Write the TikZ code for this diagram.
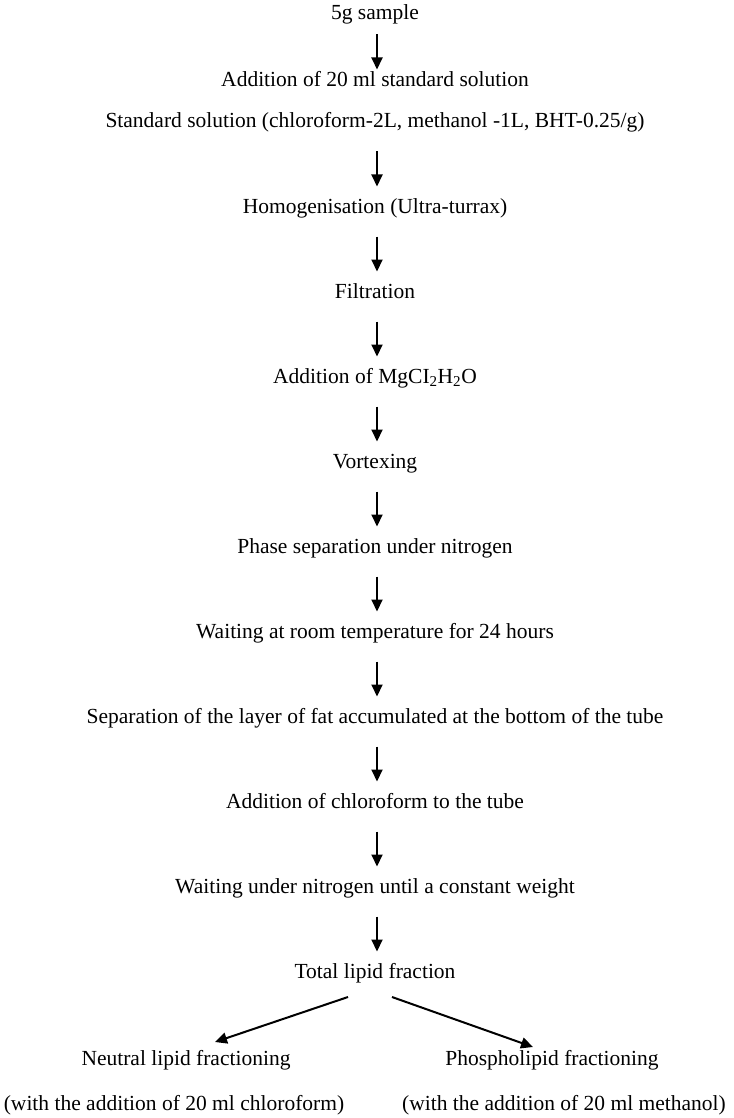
\documentclass[tikz,border=0pt]{standalone}
\usepackage{fontspec}
\setmainfont{Liberation Serif}
\usetikzlibrary{arrows.meta,calc}

\begin{document}
\begin{tikzpicture}[x=1pt, y=-1pt,
  lab/.style={font=\fontsize{21.5}{25}\selectfont, text=black, inner sep=0pt, text height=15pt, text depth=5pt},
  flow/.style={line width=2pt, draw=black, -{Triangle[length=12pt, width=11pt]}},
]
\useasboundingbox (0,0) rectangle (733,1118);
% ---------------- main column
\node[lab] (smp) at (375,15) {5g sample};
\node[lab] (add) at (375,82) {Addition of 20 ml standard solution};
\node[lab] (std) at (375,123) {Standard solution (chloroform-2L, methanol -1L, BHT-0.25/g)};
\node[lab] (hom) at (375,208) {Homogenisation (Ultra-turrax)};
\node[lab] (fil) at (375,293) {Filtration};
\node[lab] (mgc) at (375,378) {Addition of MgCI\textsubscript{2}H\textsubscript{2}O};
\node[lab] (vor) at (375,463) {Vortexing};
\node[lab] (pha) at (375,548) {Phase separation under nitrogen};
\node[lab] (wrt) at (375,633) {Waiting at room temperature for 24 hours};
\node[lab] (sep) at (375,718) {Separation of the layer of fat accumulated at the bottom of the tube};
\node[lab] (chl) at (375,803) {Addition of chloroform to the tube};
\node[lab] (wni) at (375,888) {Waiting under nitrogen until a constant weight};
\node[lab] (tot) at (375,973) {Total lipid fraction};
% ---------------- fractions
\node[lab] (neu) at (186,1060) {Neutral lipid fractioning};
\node[lab] (pho) at (552,1060) {Phospholipid fractioning};
\node[lab] (neuw) at (174,1105) {(with the addition of 20 ml chloroform)};
\node[lab] (phow) at (564,1105) {(with the addition of 20 ml methanol)};
% ---------------- arrows
\foreach \a/\b in {smp/add, std/hom, hom/fil, fil/mgc, mgc/vor, vor/pha, pha/wrt, wrt/sep, sep/chl, chl/wni, wni/tot}
  \draw[flow] ($(\a)!.5!(\b)+(2,-14)$) -- ($(\a)!.5!(\b)+(2,21)$);
\draw[flow] ($(tot)+(-27,24)$) -- ($(neu)+(29,-18)$);
\draw[flow] ($(tot)+(17,24)$) -- ($(pho)+(-19,-13)$);
\end{tikzpicture}
\end{document}
